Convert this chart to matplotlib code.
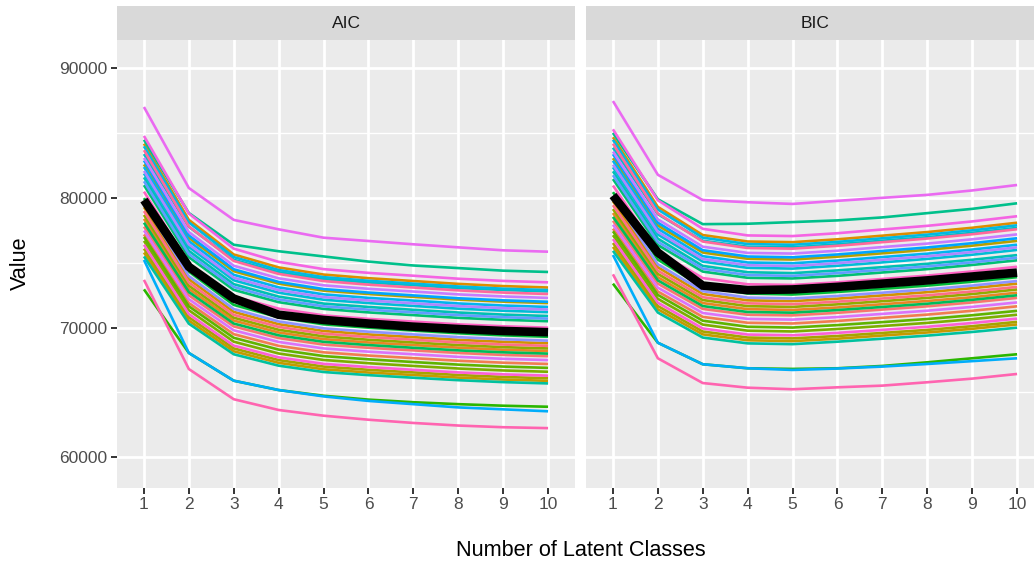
import math
import matplotlib
matplotlib.use("Agg")
import matplotlib.pyplot as plt

plt.rcParams["font.family"] = ["Liberation Sans", "DejaVu Sans"]

# ---------------------------------------------------------------- data
classes = [1, 2, 3, 4, 5, 6, 7, 8, 9, 10]
criteria = ["AIC", "BIC"]
run_ids = list(range(1, 37))

# information criterion per replicate run (rows ordered by run id)
aic_runs = [
    [77800, 72500, 70100, 69200, 68700, 68450, 68250, 68050, 67900, 67800],
    [77200, 71900, 69500, 68600, 68100, 67850, 67650, 67450, 67300, 67200],
    [78400, 72990, 70550, 69630, 69120, 68860, 68660, 68460, 68300, 68200],
    [84200, 78320, 75650, 74650, 74100, 73820, 73600, 73380, 73210, 73100],
    [79300, 73740, 71220, 70270, 69750, 69480, 69270, 69060, 68910, 68800],
    [75800, 70550, 68180, 67290, 66790, 66540, 66350, 66150, 66000, 65900],
    [82600, 76930, 74360, 73400, 72860, 72600, 72380, 72170, 72010, 71900],
    [76100, 70800, 68400, 67500, 67000, 66750, 66550, 66350, 66200, 66100],
    [78700, 73240, 70770, 69840, 69330, 69070, 68860, 68660, 68500, 68400],
    [76700, 71350, 68920, 68010, 67510, 67260, 67050, 66850, 66700, 66600],
    [77000, 71650, 69220, 68310, 67810, 67560, 67350, 67150, 67000, 66900],
    [72960, 68050, 65910, 65190, 64750, 64450, 64250, 64100, 63980, 63900],
    [80000, 74330, 71760, 70800, 70260, 70000, 69780, 69570, 69410, 69300],
    [78100, 72750, 70320, 69410, 68910, 68660, 68450, 68250, 68100, 68000],
    [81000, 75440, 72920, 71970, 71450, 71180, 70970, 70760, 70610, 70500],
    [84500, 78850, 76400, 75900, 75500, 75100, 74800, 74600, 74400, 74300],
    [75500, 70310, 67950, 67070, 66580, 66340, 66140, 65950, 65800, 65700],
    [81600, 75930, 73360, 72400, 71860, 71600, 71380, 71170, 71010, 70900],
    [83400, 77780, 75240, 74280, 73750, 73490, 73280, 73060, 72910, 72800],
    [81900, 76230, 73660, 72700, 72160, 71900, 71680, 71470, 71310, 71200],
    [84000, 78120, 75450, 74450, 73900, 73620, 73400, 73180, 73010, 72900],
    [82400, 76680, 74080, 73110, 72570, 72300, 72090, 71870, 71710, 71600],
    [75230, 68050, 65910, 65190, 64700, 64350, 64100, 63850, 63700, 63550],
    [82900, 77120, 74510, 73530, 72980, 72710, 72490, 72270, 72110, 72000],
    [81300, 75680, 73140, 72180, 71650, 71390, 71180, 70970, 70810, 70700],
    [79600, 73980, 71440, 70480, 69950, 69690, 69480, 69270, 69110, 69000],
    [82100, 76430, 73860, 72900, 72360, 72100, 71880, 71670, 71510, 71400],
    [83100, 77380, 74780, 73810, 73270, 73000, 72790, 72570, 72410, 72300],
    [77500, 72200, 69800, 68900, 68400, 68150, 67950, 67750, 67600, 67500],
    [87030, 80780, 78320, 77590, 76945, 76690, 76435, 76200, 75970, 75865],
    [84800, 78810, 76100, 75080, 74520, 74230, 74010, 73780, 73610, 73500],
    [76400, 71050, 68620, 67710, 67210, 66960, 66750, 66550, 66400, 66300],
    [80500, 74940, 72420, 71470, 70950, 70680, 70470, 70260, 70110, 70000],
    [73690, 66810, 64480, 63650, 63210, 62900, 62650, 62450, 62320, 62250],
    [83700, 77820, 75150, 74150, 73600, 73320, 73100, 72880, 72710, 72600],
    [79000, 73490, 70990, 70060, 69540, 69280, 69070, 68860, 68700, 68600],
]

bic_runs = [
    [78250, 73400, 71450, 71000, 70950, 71150, 71400, 71650, 71950, 72300],
    [77645, 72790, 70835, 70380, 70325, 70520, 70765, 71010, 71305, 71650],
    [78850, 73890, 71900, 71430, 71370, 71560, 71810, 72060, 72350, 72700],
    [84700, 79320, 77150, 76650, 76600, 76820, 77100, 77380, 77710, 78100],
    [79760, 74660, 72600, 72110, 72050, 72240, 72490, 72740, 73050, 73400],
    [76235, 71420, 69485, 69030, 68965, 69150, 69395, 69630, 69915, 70250],
    [83080, 77890, 75800, 75320, 75260, 75480, 75740, 76010, 76330, 76700],
    [76535, 71670, 69705, 69240, 69175, 69360, 69595, 69830, 70115, 70450],
    [79155, 74150, 72135, 71660, 71605, 71800, 72045, 72300, 72595, 72950],
    [77140, 72230, 70240, 69770, 69710, 69900, 70130, 70370, 70660, 71000],
    [77440, 72530, 70540, 70070, 70010, 70200, 70430, 70670, 70960, 71300],
    [73400, 68840, 67180, 66870, 66820, 66870, 67050, 67330, 67640, 67950],
    [80460, 75250, 73140, 72640, 72560, 72760, 73000, 73250, 73550, 73900],
    [78550, 73650, 71670, 71210, 71160, 71360, 71600, 71850, 72150, 72500],
    [81470, 76380, 74330, 73850, 73800, 74000, 74260, 74520, 74840, 75200],
    [85030, 79910, 77990, 78020, 78150, 78280, 78510, 78840, 79170, 79600],
    [75930, 71170, 69240, 68790, 68730, 68920, 69150, 69390, 69670, 70000],
    [82070, 76870, 74770, 74280, 74210, 74420, 74670, 74930, 75240, 75600],
    [83890, 78760, 76710, 76240, 76200, 76430, 76710, 76980, 77320, 77700],
    [82380, 77190, 75100, 74620, 74560, 74780, 75040, 75310, 75630, 76000],
    [84500, 79120, 76950, 76450, 76400, 76620, 76900, 77180, 77510, 77900],
    [82880, 77640, 75520, 75030, 74970, 75180, 75450, 75710, 76030, 76400],
    [75610, 68840, 67180, 66870, 66740, 66850, 67000, 67200, 67420, 67640],
    [83390, 78100, 75980, 75490, 75430, 75650, 75920, 76190, 76520, 76900],
    [81770, 76620, 74550, 74060, 74000, 74210, 74470, 74730, 75040, 75400],
    [80060, 74900, 72820, 72320, 72250, 72450, 72700, 72950, 73250, 73600],
    [82580, 77390, 75300, 74820, 74760, 74980, 75240, 75510, 75830, 76200],
    [83590, 78360, 76250, 75770, 75720, 75940, 76220, 76490, 76820, 77200],
    [77945, 73090, 71135, 70680, 70625, 70820, 71065, 71310, 71605, 71950],
    [87490, 81800, 79850, 79680, 79550, 79790, 80020, 80250, 80590, 81010],
    [85310, 79830, 77630, 77120, 77070, 77290, 77580, 77860, 78200, 78600],
    [76840, 71930, 69940, 69470, 69410, 69600, 69830, 70070, 70360, 70700],
    [80970, 75880, 73830, 73350, 73300, 73500, 73760, 74020, 74340, 74700],
    [74120, 67640, 65730, 65370, 65250, 65400, 65530, 65790, 66070, 66430],
    [84200, 78820, 76650, 76150, 76100, 76320, 76600, 76880, 77210, 77600],
    [79455, 74400, 72355, 71880, 71815, 72010, 72255, 72500, 72795, 73150],
]

# average over runs
aic_mean = [79850, 74700, 72250, 71000, 70600, 70320, 70080, 69900, 69750, 69650]
bic_mean = [80200, 75800, 73250, 72900, 72950, 73150, 73400, 73650, 73950, 74250]

y_breaks = [60000, 70000, 80000, 90000]
y_minor = [65000, 75000, 85000]


# ---------------------------------------------------------------- colours
def hcl_hex(h, c=100.0, l=65.0):
    """Polar CIE-Luv colour to sRGB hex (same scheme as R's hcl())."""
    xn, yn, zn = 95.047, 100.0, 108.883
    un = 4 * xn / (xn + 15 * yn + 3 * zn)
    vn = 9 * yn / (xn + 15 * yn + 3 * zn)
    hr = math.radians(h)
    U, V = c * math.cos(hr), c * math.sin(hr)
    Y = yn * ((l + 16) / 116) ** 3
    u = U / (13 * l) + un
    v = V / (13 * l) + vn
    X = Y * 9 * u / (4 * v)
    Z = Y * (12 - 3 * u - 20 * v) / (4 * v)
    X, Y, Z = X / 100, Y / 100, Z / 100
    rgb_lin = (
        3.240479 * X - 1.537150 * Y - 0.498535 * Z,
        -0.969256 * X + 1.875992 * Y + 0.041556 * Z,
        0.055648 * X - 0.204043 * Y + 1.057311 * Z,
    )
    out = []
    for t in rgb_lin:
        t = 12.92 * t if t <= 0.0031308 else 1.055 * t ** (1 / 2.4) - 0.055
        out.append(min(max(t, 0.0), 1.0))
    return "#%02x%02x%02x" % tuple(int(round(255 * t)) for t in out)


n_runs = len(run_ids)
palette = [hcl_hex(15 + 360 * i / n_runs) for i in range(n_runs)]

# ---------------------------------------------------------------- figure
W, H = 1034, 564
fig = plt.figure(figsize=(W / 100, H / 100), dpi=100)
fig.patch.set_facecolor("white")

panel_w = 458 / W
panel_b = 1 - 487.7 / H
panel_h = (487.7 - 40) / H
strip_h = 34 / H
lefts = [117 / W, 586 / W]

series = {"AIC": (aic_runs, aic_mean), "BIC": (bic_runs, bic_mean)}

for left, crit in zip(lefts, criteria):
    ax = fig.add_axes([left, panel_b, panel_w, panel_h])
    ax.set_facecolor("#EBEBEB")
    for sp in ax.spines.values():
        sp.set_visible(False)

    runs, mean = series[crit]
    for idx, vals in enumerate(runs):
        ax.plot(classes, vals, color=palette[idx], lw=1.9,
                solid_joinstyle="round", solid_capstyle="butt", zorder=3)
    ax.plot(classes, mean, color="black", lw=6.2,
            solid_joinstyle="miter", solid_capstyle="butt", zorder=4)

    ax.set_xlim(0.4, 10.6)
    ax.set_ylim(57654, 92199)
    ax.set_xticks(classes)
    ax.set_yticks(y_breaks)
    ax.set_yticks(y_minor, minor=True)
    ax.grid(which="major", color="white", lw=2.0, zorder=1)
    ax.grid(which="minor", axis="y", color="white", lw=1.0, zorder=1)
    ax.set_axisbelow(True)
    ax.tick_params(axis="both", which="major", length=4, width=1.4,
                   color="#333333", labelcolor="#4D4D4D", labelsize=12.5,
                   pad=3)
    ax.tick_params(axis="both", which="minor", length=0)
    ax.tick_params(axis="x", which="minor", bottom=False)
    if left == lefts[0]:
        ax.set_yticklabels([str(v) for v in y_breaks])
    else:
        ax.tick_params(axis="y", which="major", left=False, labelleft=False)

    strip = fig.add_axes([left, 1 - 40 / H, panel_w, strip_h])
    strip.set_facecolor("#D9D9D9")
    strip.set_xticks([])
    strip.set_yticks([])
    for sp in strip.spines.values():
        sp.set_visible(False)
    strip.text(0.5, 0.5, crit, ha="center", va="center",
               fontsize=12.5, color="#1A1A1A", transform=strip.transAxes)

fig.text(20 / W, 1 - 263 / H, "Value", rotation=90, ha="center",
         va="center", fontsize=15.6, color="black")
fig.text(581 / W, 1 - 550 / H, "Number of Latent Classes", ha="center",
         va="center", fontsize=15.6, color="black")

fig.savefig("out.png", dpi=100)
